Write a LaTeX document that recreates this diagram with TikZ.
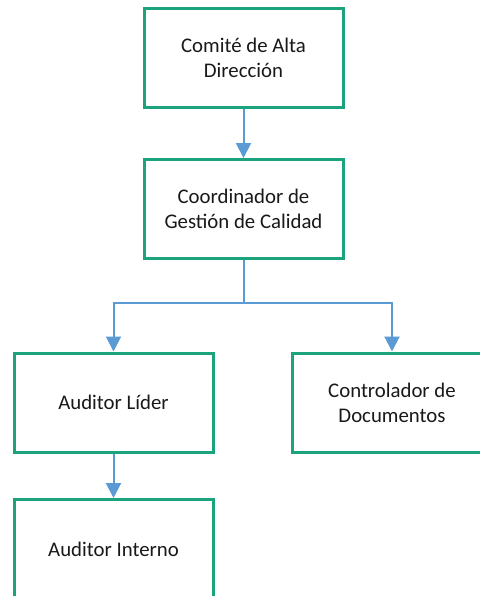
\documentclass[tikz,border=0pt]{standalone}
\usepackage{fontspec}
\setmainfont{Carlito}
\usetikzlibrary{arrows.meta}
\definecolor{boxgreen}{RGB}{27,163,126}
\definecolor{linkblue}{RGB}{91,155,213}

\begin{document}
\begin{tikzpicture}[x=0.5pt, y=-0.5pt,
  box/.style={draw=boxgreen, line width=1.5pt, fill=white, rectangle,
    minimum width=99.5pt, minimum height=49.5pt, align=center,
    font=\fontsize{10.4}{12.6}\selectfont, text=black!90},
  link/.style={draw=linkblue, line width=1pt, -{Triangle[length=7.5pt,width=7.5pt]}}]
\useasboundingbox (0,0) rectangle (480,596);
\clip (0,0) rectangle (480,596);

\node (comite) [box] at (243.5,58) {Comité de Alta\\Dirección};
\node (coord) [box] at (243.5,209) {Coordinador de\\Gestión de Calidad};
\node (lider) [box] at (113.5,402.5) {Auditor Líder};
\node (control) [box] at (392,402.5) {Controlador de\\Documentos};
\node (interno) [box] at (113.5,549) {Auditor Interno};
\coordinate (split) at (243.5,303);

\draw[link] (comite) -- (coord);
\draw[draw=linkblue, line width=1pt] (coord) -- (split);
\draw[link] (split) -| (lider);
\draw[link] (split) -| (control);
\draw[link] (lider) -- (interno);
\end{tikzpicture}
\end{document}
